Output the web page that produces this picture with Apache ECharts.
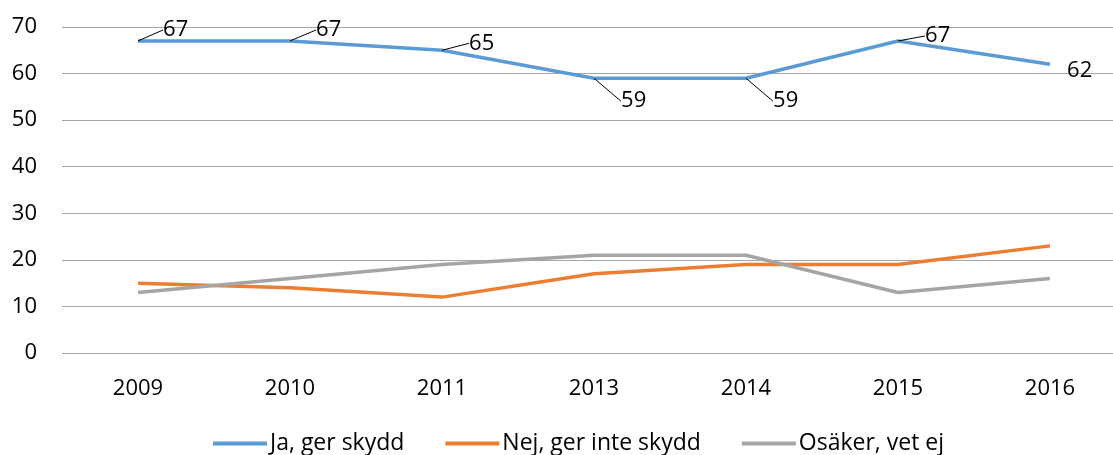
<!DOCTYPE html>
<html>
<head>
<meta charset="utf-8">
<script src="https://cdn.jsdelivr.net/npm/echarts@6/dist/echarts.min.js"></script>
<style>
  html, body { margin: 0; padding: 0; background: #fff; }
  #chart { width: 1113px; height: 455px; }
</style>
</head>
<body>
<div id="chart"></div>
<script>
var years = ['2009', '2010', '2011', '2013', '2014', '2015', '2016']
var jaValues = [67, 67, 65, 59, 59, 67, 62]
var nejValues = [15, 14, 12, 17, 19, 19, 23]
var osakerValues = [13, 16, 19, 21, 21, 13, 16]
var seriesNames = ['Ja, ger skydd', 'Nej, ger inte skydd', 'Osäker, vet ej']

// label shifts for the blue line (like the leader lines in the original)
var labelShift = [[16, -11], [17, -11], [18, -7], [18, 23], [18, 23], [18, -5], [8, 6]]

var myChart = echarts.init(document.getElementById('chart'))
var font = '"Open Sans", sans-serif'

// last label sits next to the line end, no leader line there
var jaData = jaValues.map(function (v, i) {
  return i === jaValues.length - 1 ? { value: v, labelLine: { show: false } } : v
})

var option = {
  animation: false,
  textStyle: { fontFamily: font },
  grid: { left: 62, top: 27, width: 1064, height: 326, outerBoundsMode: 'none', containLabel: false },
  legend: {
    bottom: -5,
    left: 208,
    itemWidth: 54,
    itemHeight: 4,
    itemGap: 41,
    icon: 'rect',
    textStyle: { fontSize: 23, color: '#000', fontFamily: font, padding: [0, 0, 0, -2] },
    data: seriesNames
  },
  xAxis: {
    type: 'category',
    data: years,
    axisLine: { show: false },
    axisTick: { show: false },
    axisLabel: { fontSize: 22, color: '#000', margin: 25 }
  },
  yAxis: {
    type: 'value',
    min: 0,
    max: 70,
    interval: 10,
    axisLine: { show: false },
    axisTick: { show: false },
    axisLabel: { fontSize: 22, color: '#000', margin: 25 },
    splitLine: { lineStyle: { color: '#a6a6a6', width: 1 } }
  },
  series: [
    {
      name: seriesNames[0],
      type: 'line',
      data: jaData,
      symbol: 'circle',
      symbolSize: 0.1,
      lineStyle: { color: '#5b9bd5', width: 3.5 },
      itemStyle: { color: '#5b9bd5' },
      label: { show: true, position: 'right', distance: 5, fontSize: 22, color: '#000', padding: [0, 0, 0, 4] },
      labelLine: { show: true, lineStyle: { color: '#000', width: 1 } },
      labelLayout: function (p) {
        var s = labelShift[p.dataIndex]
        return { dx: s[0], dy: s[1] }
      }
    },
    {
      name: seriesNames[1],
      type: 'line',
      data: nejValues,
      symbol: 'none',
      lineStyle: { color: '#ed7d31', width: 3.5 },
      itemStyle: { color: '#ed7d31' }
    },
    {
      name: seriesNames[2],
      type: 'line',
      data: osakerValues,
      symbol: 'none',
      lineStyle: { color: '#a5a5a5', width: 3.5 },
      itemStyle: { color: '#a5a5a5' }
    }
  ]
}
myChart.setOption(option)
</script>
</body>
</html>
